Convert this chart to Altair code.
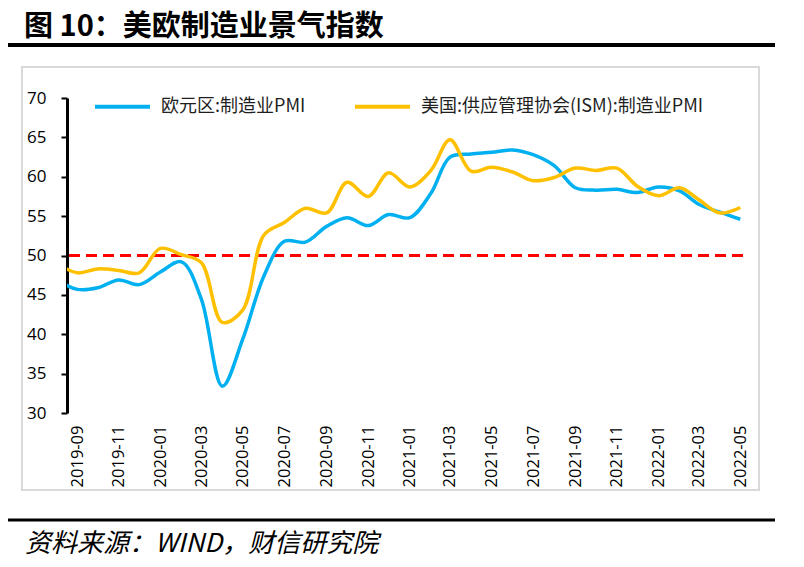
import altair as alt
import pandas as pd

months = ["2019-08", "2019-09", "2019-10", "2019-11", "2019-12",
          "2020-01", "2020-02", "2020-03", "2020-04", "2020-05", "2020-06",
          "2020-07", "2020-08", "2020-09", "2020-10", "2020-11", "2020-12",
          "2021-01", "2021-02", "2021-03", "2021-04", "2021-05", "2021-06",
          "2021-07", "2021-08", "2021-09", "2021-10", "2021-11", "2021-12",
          "2022-01", "2022-02", "2022-03", "2022-04", "2022-05"]
eu_pmi = [47.0, 45.7, 45.9, 46.9, 46.3,
          47.9, 49.2, 44.5, 33.4, 39.4, 47.4,
          51.8, 51.7, 53.7, 54.8, 53.8, 55.2,
          54.8, 57.9, 62.5, 62.9, 63.1, 63.4,
          62.8, 61.4, 58.6, 58.3, 58.4, 58.0,
          58.7, 58.2, 56.5, 55.5, 54.6]
us_pmi = [49.1, 47.8, 48.3, 48.1, 47.8,
          50.9, 50.1, 49.1, 41.5, 43.1, 52.6,
          54.2, 56.0, 55.4, 59.3, 57.5, 60.5,
          58.7, 60.8, 64.7, 60.7, 61.2, 60.6,
          59.5, 59.9, 61.1, 60.8, 61.1, 58.8,
          57.6, 58.6, 57.1, 55.4, 56.1]
series_names = ["欧元区:制造业PMI", "美国:供应管理协会(ISM):制造业PMI"]
series_colors = ["#00B0F0", "#FFC000"]
tick_labels = ["2019-09", "2019-11", "2020-01", "2020-03", "2020-05", "2020-07",
               "2020-09", "2020-11", "2021-01", "2021-03", "2021-05", "2021-07",
               "2021-09", "2021-11", "2022-01", "2022-03", "2022-05"]
y_ticks = [30, 35, 40, 45, 50, 55, 60, 65, 70]
threshold = [50]
title_text = "图 10：美欧制造业景气指数"
source_text = "资料来源：WIND，财信研究院"

rows = []
for m, e, u in zip(months, eu_pmi, us_pmi):
    rows.append({"date": m + "-01", "series": series_names[0], "value": e})
    rows.append({"date": m + "-01", "series": series_names[1], "value": u})
df = pd.DataFrame(rows)

tick_values = [alt.DateTime(year=int(s[:4]), month=int(s[5:]), date=1, utc=True) for s in tick_labels]

W, H = 676, 315

x_enc = alt.X("date:T",
              scale=alt.Scale(type="utc",
                              domain=[alt.DateTime(year=2019, month=8, date=17, utc=True),
                                      alt.DateTime(year=2022, month=5, date=5, utc=True)]),
              axis=alt.Axis(values=tick_values, format="%Y-%m", labelAngle=270,
                            domain=False, ticks=False, grid=False, labelPadding=12,
                            labelOverlap=False,
                            labelFont="Open Sans", labelFontSize=16.5, labelColor="#000000",
                            title=None))
y_enc = alt.Y("value:Q",
              scale=alt.Scale(domain=[30, 70], nice=False, zero=False),
              axis=alt.Axis(values=y_ticks, grid=False, domainColor="#000000", domainWidth=3,
                            tickColor="#000000", tickWidth=2, tickSize=6, labelPadding=15,
                            labelOverlap=False, tickCount=9,
                            labelFont="Open Sans", labelFontSize=17, labelColor="#000000",
                            title=None))

lines = alt.Chart(df).mark_line(strokeWidth=3.5, interpolate="catmull-rom", clip=True).encode(
    x=x_enc,
    y=y_enc,
    color=alt.Color("series:N",
                    scale=alt.Scale(domain=series_names, range=series_colors),
                    sort=series_names,
                    legend=alt.Legend(title=None, orient="none", direction="horizontal",
                                      legendX=26, legendY=-21, padding=0,
                                      symbolType="stroke", symbolSize=3025, symbolStrokeWidth=4,
                                      labelOffset=9, columnPadding=41,
                                      labelFont="Noto Sans CJK SC", labelFontSize=18,
                                      labelColor="#1f1f1f", labelLimit=400)),
)

ref = alt.Chart(pd.DataFrame({"value": threshold})).mark_rule(
    color="#FF0000", strokeWidth=3, strokeDash=[11, 6]
).encode(y=y_enc)

frame = alt.Chart(pd.DataFrame({"a": [0]})).mark_rect(
    fill=None, stroke="#D9D9D9", strokeWidth=2
).encode(x=alt.value(-45), x2=alt.value(692), y=alt.value(-31), y2=alt.value(392))

title_rule = alt.Chart(pd.DataFrame({"a": [0]})).mark_rule(
    color="#000000", strokeWidth=4
).encode(x=alt.value(-62), x2=alt.value(708), y=alt.value(-53))

foot_rule = alt.Chart(pd.DataFrame({"a": [0]})).mark_rule(
    color="#000000", strokeWidth=3
).encode(x=alt.value(-62), x2=alt.value(708), y=alt.value(422))

title_mark = alt.Chart(pd.DataFrame({"t": [title_text]})).mark_text(
    align="left", baseline="middle", font="Noto Sans CJK SC", fontSize=29,
    fontWeight="bold", color="#000000"
).encode(x=alt.value(-43), y=alt.value(-71), text="t:N")

foot_mark = alt.Chart(pd.DataFrame({"t": [source_text]})).mark_text(
    align="left", baseline="middle", font="Noto Sans CJK SC", fontSize=26,
    fontStyle="italic", color="#000000"
).encode(x=alt.value(-42), y=alt.value(446), text="t:N")

chart = alt.layer(frame, ref, lines, title_rule, foot_rule, title_mark, foot_mark).properties(
    width=W, height=H,
    autosize=alt.AutoSizeParams(type="none"),
    padding={"left": 59, "top": 90, "right": 50, "bottom": 149},
    background="#FFFFFF",
).configure_view(stroke=None)

chart.save("out.html", embed_options={"renderer": "svg", "actions": False})
